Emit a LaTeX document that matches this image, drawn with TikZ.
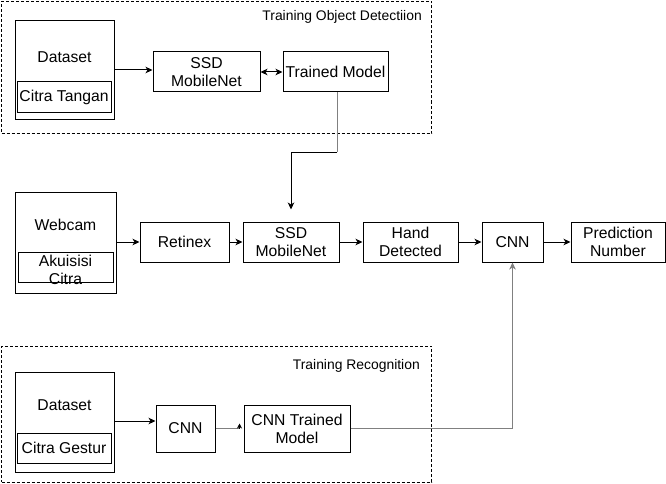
\documentclass[tikz,border=0pt]{standalone}
\usepackage{fontspec}
\setmainfont{Liberation Sans}
\usetikzlibrary{arrows.meta}
\begin{document}
\begin{tikzpicture}[x=1pt,y=-1pt,
  every node/.style={font=\fontsize{15.7}{18}\selectfont, inner sep=0pt, align=center},
  box/.style={draw=black, line width=1pt, rectangle},
  group/.style={draw=black, line width=0.9pt, dash pattern=on 3pt off 2pt, rectangle},
  glabel/.style={font=\fontsize{13.9}{16}\selectfont, anchor=east},
  arr/.style={line width=1pt, -{Stealth[length=7pt,width=6.5pt,inset=2pt]}},
  darr/.style={line width=1pt, {Stealth[length=7pt,width=6.5pt,inset=2pt]}-{Stealth[length=7pt,width=6.5pt,inset=2pt]}},
  conn/.style={line width=1pt, draw=gray}
]
\useasboundingbox (0,0) rectangle (666,484);

% --- Training Object Detection group
\node[group, minimum width=430, minimum height=132] (g1) at (216.5,67.5) {};
\node[glabel] (g1lab) at (422,17) {Training Object Detectiion};
\node[box, minimum width=99, minimum height=99] (ds1) at (64.5,70.5) {};
\node (ds1t) at (64.5,57) {Dataset};
\node[box, minimum width=94, minimum height=31] (ct1) at (64,97.5) {Citra Tangan};
\node[box, minimum width=107, minimum height=40] (ssd1) at (206.5,72) {SSD\\MobileNet};
\node[box, minimum width=105, minimum height=40] (tm) at (335.5,72) {Trained Model};

\draw[arr] (ds1.east |- 0,70) -- (ssd1.west |- 0,70);
\draw[darr] (ssd1.east) -- (tm.west);

% --- main pipeline
\node[box, minimum width=101, minimum height=101] (web) at (65.5,242.5) {};
\node (webt) at (65.5,225) {Webcam};
\node[box, minimum width=95, minimum height=30] (ak) at (65.5,267) {};
\node (akt) at (65.5,270) {Akuisisi\\Citra};
\node[box, minimum width=89, minimum height=40] (ret) at (184.5,242) {Retinex};
\node[box, minimum width=96, minimum height=40] (ssd2) at (291,242) {SSD\\MobileNet};
\node[box, minimum width=95, minimum height=40] (hd) at (410.5,242) {Hand\\Detected};
\node[box, minimum width=61, minimum height=40] (cnn1) at (512.5,242) {CNN};
\node[box, minimum width=94, minimum height=40] (pred) at (618,242) {Prediction\\Number};

\draw[arr] (web.east |- ret.west) -- (ret.west);
\draw[arr] (ret.east) -- (ssd2.west);
\draw[arr] (ssd2.east) -- (hd.west);
\draw[arr] (hd.east) -- (cnn1.west);
\draw[arr] (cnn1.east) -- (pred.west);

% trained model -> SSD
\coordinate (bend1) at (337,152);
\draw[conn] (tm.south -| bend1) -- (bend1);
\draw[arr, shorten >=12pt] (bend1) -| (ssd2.north);

% --- Training Recognition group
\node[group, minimum width=430, minimum height=136] (g2) at (216.5,414) {};
\node[glabel] (g2lab) at (420,366) {Training Recognition};
\node[box, minimum width=99, minimum height=100] (ds2) at (64.5,422) {};
\node (ds2t) at (64.5,405) {Dataset};
\node[box, minimum width=94, minimum height=30] (cg) at (64,448) {Citra Gestur};
\node[box, minimum width=59, minimum height=47] (cnn2) at (185.5,428.5) {CNN};
\node[box, minimum width=106, minimum height=47] (ctm) at (297,428.5) {CNN Trained\\Model};

\draw[arr] (ds2.east |- 0,421) -- (cnn2.west |- 0,421);
\coordinate (tipb) at (239.5,428.5);
\draw[conn] (cnn2.east) -- (tipb);
\draw[line width=0.8pt, -{Stealth[length=5pt,width=5pt,inset=1.5pt]}] (tipb) -- ++(0,-5);
\draw[conn, -{Stealth[length=7pt,width=6.5pt,inset=2pt]}] (ctm.east) -| (cnn1.south);
\end{tikzpicture}
\end{document}
